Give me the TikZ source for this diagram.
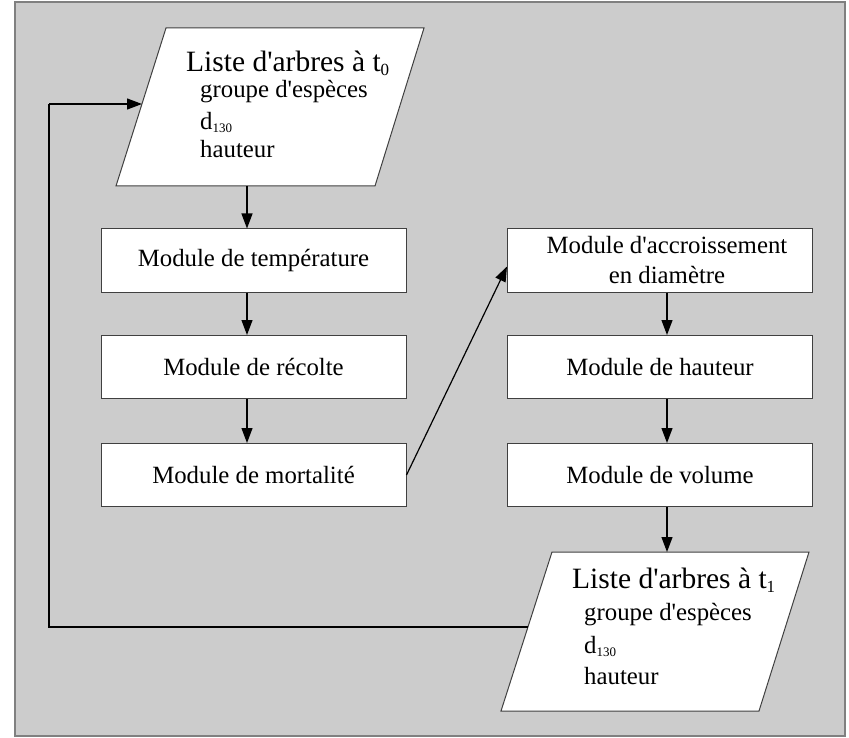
\documentclass[tikz,border=0pt]{standalone}
\usepackage{fontspec}
\setmainfont{Liberation Serif}
\usetikzlibrary{arrows.meta,calc}
\definecolor{bg}{HTML}{CCCCCC}
\definecolor{frame}{HTML}{808080}
\definecolor{edge}{HTML}{404040}
\newcommand{\ap}{\textquotesingle}
\newcommand{\smallsub}[3]{\raisebox{-#2}{\fontsize{#1}{#1}\selectfont #3}}
\begin{document}
\begin{tikzpicture}[x=1pt,y=-1pt,
  modbox/.style={draw=edge,fill=white,line width=1pt,minimum width=305pt,minimum height=63pt,inner sep=0pt,font=\fontsize{24.8}{30}\selectfont,align=center},
  conn/.style={line width=1.2pt,-{Triangle[length=15pt,width=11pt]}},
  plain/.style={line width=1.2pt},
  para/.style={draw=edge,fill=white,line width=1pt},
  ttl/.style={anchor=base west,inner sep=0pt,font=\fontsize{29.5}{34}\selectfont},
  sub/.style={anchor=base west,inner sep=0pt,font=\fontsize{24.8}{30}\selectfont}]
\useasboundingbox (0,0) rectangle (849,738);
\fill[white] (0,0) rectangle (849,738);
\draw[fill=bg,draw=frame,line width=1.5pt] (15,2) rectangle (845,736);
% top parallelogram
\coordinate (p0tl) at (166,28);
\coordinate (p0tr) at (424,28);
\coordinate (p0br) at (375,186);
\coordinate (p0bl) at (116,186);
\draw[para] (p0tl) -- (p0tr) -- (p0br) -- (p0bl) -- cycle;
\coordinate (p0in) at (142,104);
\coordinate (p0out) at (247,186);
\node[ttl] (p0t) at (186,72) {Liste d\ap arbres à t\smallsub{17}{4pt}{0}};
\node[sub] (p0a) at (200,98) {groupe d\ap espèces};
\node[sub] (p0b) at (200,130) {d\smallsub{13}{3pt}{130}};
\node[sub] (p0c) at (200,158) {hauteur};
% left column
\node[modbox] (temp) at (253.5,260.5) {Module de température};
\node[modbox] (reco) at (253.5,367) {Module de récolte};
\node[modbox] (mort) at (253.5,475) {Module de mortalité};
% right column
\node[modbox] (accr) at (660,260.5) {\hspace*{14pt}Module d\ap accroissement\\\hspace*{14pt}en diamètre};
\node[modbox] (haut) at (660,367) {Module de hauteur};
\node[modbox] (volu) at (660,475) {Module de volume};
% bottom parallelogram
\coordinate (p1tl) at (552,552);
\coordinate (p1tr) at (809,552);
\coordinate (p1br) at (759,711);
\coordinate (p1bl) at (501,711);
\draw[para] (p1tl) -- (p1tr) -- (p1br) -- (p1bl) -- cycle;
\coordinate (p1in) at (667,552);
\coordinate (p1out) at (528,627);
\node[ttl] (p1t) at (572,588) {Liste d\ap arbres à t\smallsub{17}{4pt}{1}};
\node[sub] (p1a) at (584,620) {groupe d\ap espèces};
\node[sub] (p1b) at (584,653) {d\smallsub{13}{3pt}{130}};
\node[sub] (p1c) at (584,684) {hauteur};
% connectors
\draw[conn] (p0out) -- (p0out |- temp.north);
\draw[conn] ([xshift=-6.5pt]temp.south) -- ([xshift=-6.5pt]reco.north);
\draw[conn] ([xshift=-6.5pt]reco.south) -- ([xshift=-6.5pt]mort.north);
\draw[conn] (mort.east) -- ($(accr.west)+(0,6)$);
\draw[conn] ([xshift=7pt]accr.south) -- ([xshift=7pt]haut.north);
\draw[conn] ([xshift=7pt]haut.south) -- ([xshift=7pt]volu.north);
\draw[conn] ([xshift=7pt]volu.south) -- (p1in);
\coordinate (loopb) at (49,627);
\coordinate (loopt) at (49,104);
\draw[plain] (p1out) -- (loopb) -- (loopt);
\draw[conn] (loopt) -- (p0in);
\end{tikzpicture}
\end{document}
